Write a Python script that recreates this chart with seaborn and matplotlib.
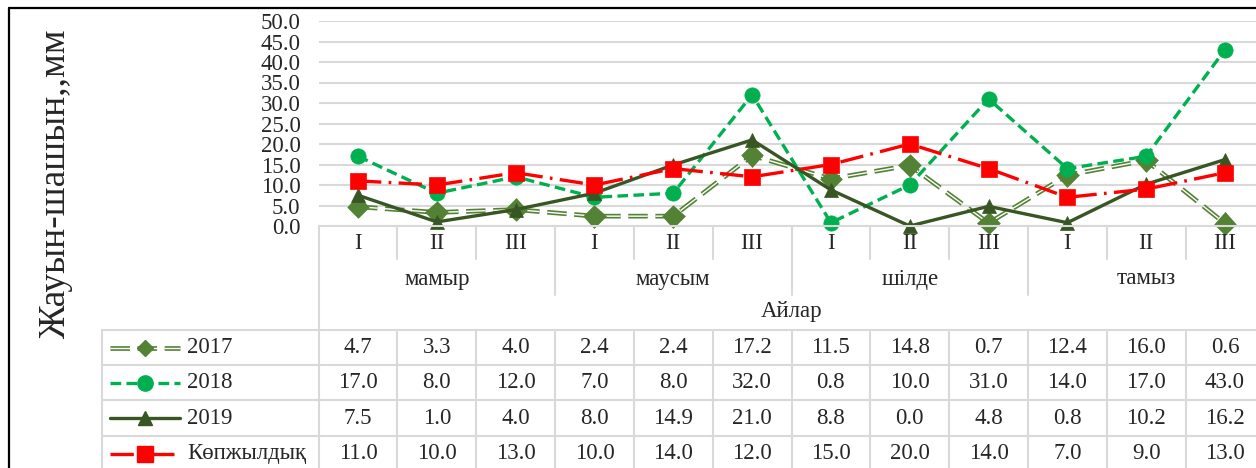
import numpy as np
import pandas as pd
import matplotlib
matplotlib.use("Agg")
import matplotlib.pyplot as plt
import matplotlib.patheffects as pe
from matplotlib.lines import Line2D
from matplotlib.transforms import blended_transform_factory
import seaborn as sns

# --- data ---
months = ["мамыр", "маусым", "шілде", "тамыз"]
decades = ["I", "II", "III"]
series_names = ["2017", "2018", "2019", "Көпжылдық"]
d2017 = [4.7, 3.3, 4.0, 2.4, 2.4, 17.2, 11.5, 14.8, 0.7, 12.4, 16.0, 0.6]
d2018 = [17.0, 8.0, 12.0, 7.0, 8.0, 32.0, 0.8, 10.0, 31.0, 14.0, 17.0, 43.0]
d2019 = [7.5, 1.0, 4.0, 8.0, 14.9, 21.0, 8.8, 0.0, 4.8, 0.8, 10.2, 16.2]
d_multi = [11.0, 10.0, 13.0, 10.0, 14.0, 12.0, 15.0, 20.0, 14.0, 7.0, 9.0, 13.0]
y_ticks = [0, 5, 10, 15, 20, 25, 30, 35, 40, 45, 50]
x_title = "Айлар"
y_title = "Жауын-шашын,,мм"

W, H = 1256, 468
FS = 16.5
sns.set_style("white")
plt.rcParams["font.family"] = ["Liberation Serif", "DejaVu Serif"]

fig = plt.figure(figsize=(W / 100, H / 100), dpi=100)

# axes placement in pixels (plot runs past the right edge like the reference)
left_px, right_px, top_px, bot_px = 318.6, 1264.4, 21, 226
ax = fig.add_axes([left_px / W, 1 - bot_px / H, (right_px - left_px) / W, (bot_px - top_px) / H])

n = len(d2017)
pos = np.arange(n)

styles = {
    "2017": dict(color="#548235", marker="D", ms=8.5, dashes=(14, 5.5)),
    "2018": dict(color="#00B050", marker="o", ms=11, dashes=(3.2, 1.6)),
    "2019": dict(color="#375623", marker="^", ms=10.5, dashes=None),
    "Көпжылдық": dict(color="#FF0000", marker="s", ms=11, dashes=(7, 2.2, 0.8, 2.2)),
}
values = {"2017": d2017, "2018": d2018, "2019": d2019, "Көпжылдық": d_multi}


def style_line(line, name):
    st = styles[name]
    line.set_marker(st["marker"])
    line.set_markersize(st["ms"])
    line.set_markerfacecolor(st["color"])
    line.set_markeredgecolor(st["color"])
    line.set_markeredgewidth(0.5)
    line.set_clip_on(False)
    if name == "2017":
        # double ("compound") dashed line: white core with green outline
        line.set_color("white")
        line.set_linewidth(1.0)
        line.set_dashes(st["dashes"])
        line.set_path_effects([pe.Stroke(linewidth=3.4, foreground=st["color"]), pe.Normal()])
    else:
        line.set_color(st["color"])
        line.set_linewidth(2.4)
        if st["dashes"] is not None:
            line.set_dashes(st["dashes"])
        else:
            line.set_linestyle("-")


for name in series_names:
    df = pd.DataFrame({"x": pos, "y": values[name]})
    sns.lineplot(data=df, x="x", y="y", ax=ax, color=styles[name]["color"])
    style_line(ax.lines[-1], name)

ax.set_xlim(-0.5, n - 0.5)
ax.set_ylim(0, 50)
ax.set_yticks(y_ticks)
ax.set_yticklabels([f"{v:.1f}" for v in y_ticks], fontsize=FS)
ax.tick_params(axis="y", length=0, pad=13)
ax.set_xticks([])
ax.set_xlabel("")
ax.set_ylabel("")
ax.grid(axis="y", color="#d9d9d9", linewidth=1.5)
ax.grid(axis="x", visible=False)
for s in ["left", "right", "top"]:
    ax.spines[s].set_visible(False)
ax.spines["bottom"].set_color("#d9d9d9")
ax.spines["bottom"].set_linewidth(1.5)
ax.set_axisbelow(True)

# --- category axis table and data table ---
def fy(p):
    return 1 - p / H


tr = blended_transform_factory(ax.transData, fig.transFigure)
gcol = "#d9d9d9"
lw = 1.5
row1_bot, row2_bot = 259, 295
row_edges = [330, 365, 400, 436, 471]

# vertical boundaries
ax.add_line(Line2D([-0.5, -0.5], [fy(226), fy(H)], transform=tr, color=gcol, lw=lw, clip_on=False))
for k in range(n - 1):
    xb = k + 0.5
    bottom = row2_bot if (k + 1) % 3 == 0 else row1_bot
    ax.add_line(Line2D([xb, xb], [fy(226), fy(bottom)], transform=tr, color=gcol, lw=lw, clip_on=False))
    ax.add_line(Line2D([xb, xb], [fy(row_edges[0]), fy(H)], transform=tr, color=gcol, lw=lw, clip_on=False))

# horizontal rows
for r in row_edges[:-1]:
    fig.add_artist(Line2D([102 / W, 1.0], [fy(r), fy(r)], color=gcol, lw=lw))
fig.add_artist(Line2D([102 / W, 102 / W], [fy(row_edges[0]), 0], color=gcol, lw=lw))

# tick labels
for i in range(n):
    ax.text(i, fy(243), decades[i % 3], transform=tr, ha="center", va="center", fontsize=FS)
for j, m in enumerate(months):
    ax.text(j * 3 + 1, fy(279), m, transform=tr, ha="center", va="center", fontsize=FS)
ax.text((n - 1) / 2, fy(312), x_title, transform=tr, ha="center", va="center", fontsize=FS)

# data rows
for r, name in enumerate(series_names):
    yc = (row_edges[r] + row_edges[r + 1]) / 2
    for i, v in enumerate(values[name]):
        ax.text(i, fy(yc), f"{v:.1f}", transform=tr, ha="center", va="center", fontsize=FS)
    # legend key
    st = styles[name]
    key = Line2D([110 / W, 180 / W], [fy(yc), fy(yc)], transform=fig.transFigure)
    fig.add_artist(key)
    style_line(key, name)
    key.set_markevery([])
    mk = Line2D([145 / W], [fy(yc)], transform=fig.transFigure, linestyle="none",
                marker=st["marker"], ms=st["ms"], mfc=st["color"], mec=st["color"])
    fig.add_artist(mk)
    fig.text(187 / W, fy(yc), name, ha="left", va="center", fontsize=FS)

# y title
fig.text(56 / W, fy(184), y_title, rotation=90, ha="center", va="center", fontsize=27)

# outer chart frame
fig.add_artist(Line2D([8.5 / W, 8.5 / W], [fy(8), 0], color="black", lw=1.6))
fig.add_artist(Line2D([8.5 / W, 1.0], [fy(8), fy(8)], color="black", lw=1.6))

fig.savefig("out.png", dpi=100)
